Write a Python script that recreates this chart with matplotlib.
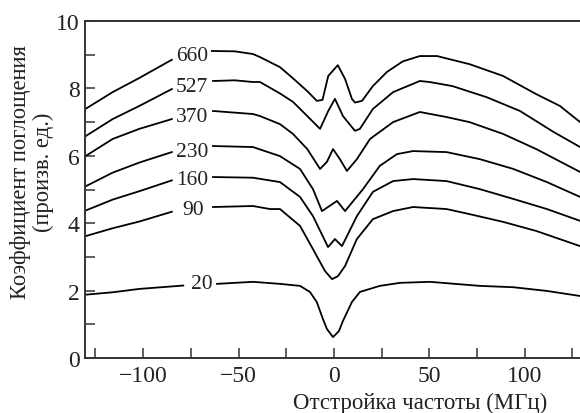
import matplotlib
matplotlib.use("Agg")
import matplotlib.pyplot as plt
from matplotlib.ticker import MultipleLocator

plt.rcParams['font.family'] = ['Liberation Serif', 'DejaVu Serif']

# ---- data ----
labels = ['660', '527', '370', '230', '160', '90', '20']
label_x = [-74.4, -74.4, -74.4, -74.4, -74.4, -73.6, -69.2]
label_y = [8.98, 8.07, 7.18, 6.14, 5.31, 4.42, 2.20]

# left parts of the spectra
x_left_660 = [-130, -116, -102, -85]
y_left_660 = [7.40, 7.89, 8.31, 8.85]
x_left_527 = [-130, -116, -102, -85]
y_left_527 = [6.59, 7.09, 7.48, 7.98]
x_left_370 = [-130, -116, -102, -85]
y_left_370 = [6.00, 6.50, 6.80, 7.09]
x_left_230 = [-130, -116, -102, -85]
y_left_230 = [5.10, 5.50, 5.80, 6.11]
x_left_160 = [-130, -116, -102, -85]
y_left_160 = [4.38, 4.70, 4.95, 5.27]
x_left_90 = [-130, -116, -102, -85]
y_left_90 = [3.62, 3.85, 4.05, 4.34]
x_left_20 = [-130, -116, -102, -79]
y_left_20 = [1.88, 1.95, 2.05, 2.15]

# right parts of the spectra
x_right_660 = [-64, -52, -42.5, -38.8, -28.3, -21.5, -14, -9, -6, -3, 2, 5.8,
               9.4, 11, 14.7, 20.4, 27.8, 36, 45, 54, 71, 88.6, 106, 118.4, 129]
y_right_660 = [9.11, 9.10, 9.02, 8.93, 8.63, 8.30, 7.92, 7.63, 7.66, 8.37, 8.69, 8.28,
               7.69, 7.58, 7.63, 8.07, 8.49, 8.80, 8.96, 8.96, 8.72, 8.37, 7.83, 7.48, 7.00]
x_right_527 = [-63.4, -52, -42.5, -38.8, -28.3, -21.5, -14, -7.3, -3, 0.5, 4.7, 11,
               13.6, 20.4, 31, 45, 50, 62, 80, 97.5, 115, 129]
y_right_527 = [8.22, 8.24, 8.19, 8.19, 7.85, 7.60, 7.18, 6.80, 7.33, 7.69, 7.18, 6.74,
               6.80, 7.39, 7.89, 8.22, 8.19, 8.07, 7.74, 7.33, 6.71, 6.26]
x_right_370 = [-63.4, -42.5, -38.8, -28.3, -21.5, -14, -7.3, -3.7, -0.5, 3.1, 6.8, 12,
               18.9, 31, 45, 59, 71, 88.6, 106, 129]
y_right_370 = [7.33, 7.24, 7.18, 6.94, 6.65, 6.20, 5.61, 5.82, 6.20, 5.90, 5.55, 5.90,
               6.50, 7.00, 7.30, 7.15, 7.00, 6.65, 6.20, 5.52]
x_right_230 = [-63.4, -42.5, -28.3, -17.8, -11, -6.3, 1.6, 5.8, 15.2, 24, 33, 41.4,
               59, 76.5, 94, 111.6, 129]
y_right_230 = [6.29, 6.26, 5.99, 5.61, 5.01, 4.36, 4.66, 4.36, 5.01, 5.70, 6.05, 6.14,
               6.11, 5.90, 5.61, 5.22, 4.78]
x_right_160 = [-63.4, -42.5, -28.3, -17.8, -11, -3.1, 0.5, 4.2, 12, 20.4, 31, 41.4,
               59, 76.5, 94, 111.6, 129]
y_right_160 = [5.37, 5.35, 5.22, 4.78, 4.21, 3.29, 3.53, 3.32, 4.21, 4.93, 5.25, 5.31,
               5.25, 5.01, 4.72, 4.42, 4.07]
x_right_90 = [-63.4, -42.5, -33.5, -28.3, -17.8, -11, -4.7, -1, 2.1, 5.8, 12, 20.4,
              31, 41.4, 59, 71, 88.6, 106, 129]
y_right_90 = [4.48, 4.51, 4.42, 4.42, 3.92, 3.23, 2.58, 2.34, 2.43, 2.73, 3.53, 4.12,
              4.36, 4.48, 4.42, 4.27, 4.04, 3.77, 3.32]
x_right_20 = [-61.3, -42.5, -28.3, -17.8, -12.6, -9, -5.8, -3.7, -0.5, 2.6, 4.7, 9.4,
              13.6, 24, 34.6, 50.3, 76.5, 94, 111.6, 129]
y_right_20 = [2.20, 2.26, 2.20, 2.14, 1.96, 1.66, 1.16, 0.86, 0.62, 0.80, 1.10, 1.66,
              1.96, 2.14, 2.23, 2.26, 2.14, 2.10, 1.99, 1.84]

x_ticks = [-100, -50, 0, 50, 100]
y_ticks = [0, 2, 4, 6, 8, 10]

left_parts = [(x_left_660, y_left_660), (x_left_527, y_left_527), (x_left_370, y_left_370),
              (x_left_230, y_left_230), (x_left_160, y_left_160), (x_left_90, y_left_90),
              (x_left_20, y_left_20)]
right_parts = [(x_right_660, y_right_660), (x_right_527, y_right_527), (x_right_370, y_right_370),
               (x_right_230, y_right_230), (x_right_160, y_right_160), (x_right_90, y_right_90),
               (x_right_20, y_right_20)]

# ---- figure ----
fig = plt.figure(figsize=(5.8, 4.14), dpi=100)
W, H = 580, 414
ax = fig.add_axes([85 / W, (H - 359) / H, (582 - 85) / W, (359 - 22) / H])

line_kw = dict(color='black', lw=1.3, solid_joinstyle='round')
for (xl, yl), (xr, yr) in zip(left_parts, right_parts):
    ax.plot(xl, yl, **line_kw)
    ax.plot(xr, yr, **line_kw)

for lab, lx, ly in zip(labels, label_x, label_y):
    ax.text(lx, ly, lab, ha='center', va='center', fontsize=15.5, color='#222222')

ax.set_xlim(-130.5, 130)
ax.set_ylim(0, 10)
ax.set_xticks(x_ticks)
ax.set_yticks(y_ticks)
ax.xaxis.set_minor_locator(MultipleLocator(25))
ax.yaxis.set_minor_locator(MultipleLocator(1))
ax.set_xticklabels([f'\u2212{abs(v)}' if v < 0 else str(v) for v in x_ticks])
ax.tick_params(which='both', direction='in', top=False, right=False,
               length=7, width=1.1, colors='#333333', labelcolor='#222222',
               labelsize=17)
ax.tick_params(axis='x', pad=5)
ax.tick_params(axis='y', pad=4)
for s in ['left', 'bottom', 'top']:
    ax.spines[s].set_linewidth(1.4)
    ax.spines[s].set_color('#333333')
ax.spines['right'].set_visible(False)

fig.text(420 / W, (H - 403) / H, 'Отстройка частоты (МГц)', ha='center', va='center',
         fontsize=16.5, color='#222222')
fig.text(32 / W, (H - 172) / H, 'Коэффициент поглощения\n(произв. ед.)', ha='center',
         va='center', rotation=90, fontsize=16.3, color='#222222', linespacing=1.15)

fig.savefig('out.png', dpi=100)
